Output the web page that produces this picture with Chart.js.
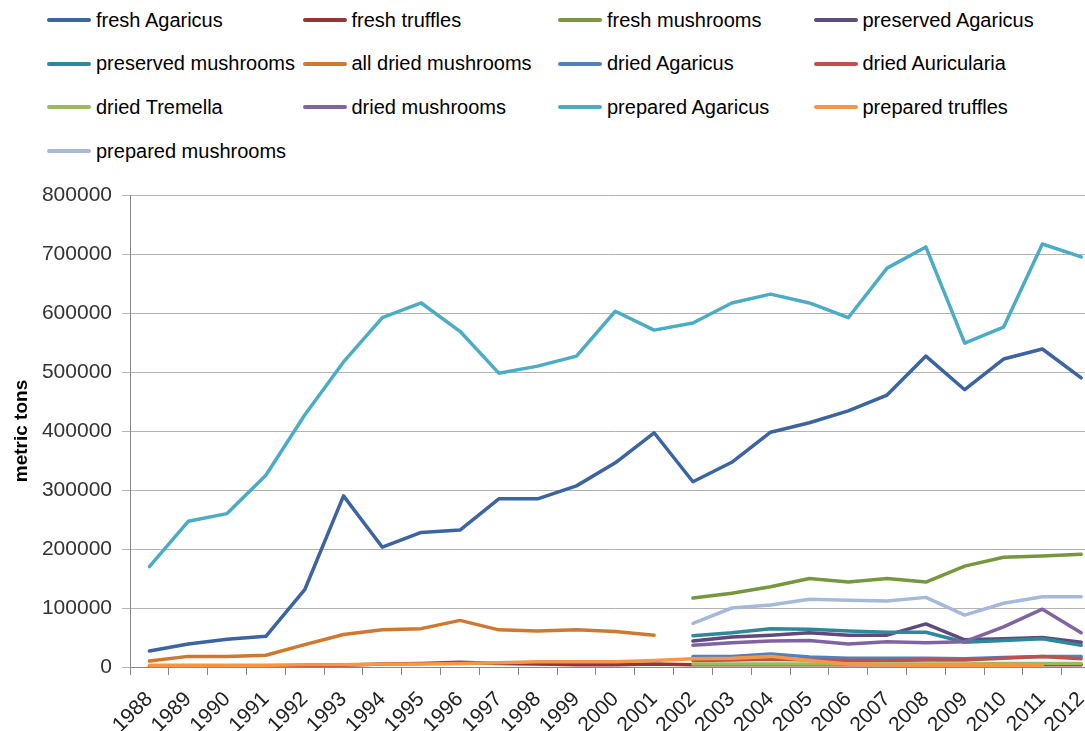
<!DOCTYPE html>
<html>
<head>
<meta charset="utf-8">
<script src="https://cdn.jsdelivr.net/npm/chart.js@4.4.1/dist/chart.umd.min.js"></script>
<style>
  html, body { margin: 0; padding: 0; background: #fff; overflow: hidden; }
  #wrap { position: relative; width: 1085px; height: 731px; overflow: hidden; }
  #legend { position: absolute; left: 0; top: 0; width: 1085px; height: 170px; }
  .item { position: absolute; height: 24px; display: flex; align-items: center;
    font-family: "Liberation Sans", Arial, sans-serif; font-size: 20px; color: #000; white-space: nowrap; }
  .swatch { width: 44px; height: 4px; border-radius: 2px; margin-right: 5px; }
  #chart { position: absolute; left: 0; top: 170px; }
</style>
</head>
<body>
<div id="wrap">
  <div id="legend"></div>
  <canvas id="chart" width="1111" height="561"></canvas>
</div>
<script>
// values, metric tons
const years = ["1988", "1989", "1990", "1991", "1992", "1993", "1994", "1995", "1996", "1997", "1998", "1999", "2000",
  "2001", "2002", "2003", "2004", "2005", "2006", "2007", "2008", "2009", "2010", "2011", "2012"];
const yTicks = [0, 100000, 200000, 300000, 400000, 500000, 600000, 700000, 800000];

const freshAgaricus = [27000, 39000, 47000, 52000, 131000, 290000, 203000, 228000, 232000, 285000, 285000, 307000, 346000,
  397000, 314000, 347000, 398000, 414000, 434000, 461000, 527000, 470000, 522000, 539000, 490000];
const freshTruffles = [1000, 1000, 1000, 1000, 2000, 3000, 5000, 6000, 8000, 6000, 5000, 4000, 4000,
  5000, 4000, 4000, 4000, 4000, 4000, 4000, 4000, 4000, 4000, 4000, 4000];
const freshMushrooms = [null, null, null, null, null, null, null, null, null, null, null, null, null,
  null, 117000, 125000, 136000, 150000, 144000, 150000, 144000, 171000, 186000, 188000, 191000];
const preservedAgaricus = [null, null, null, null, null, null, null, null, null, null, null, null, null,
  null, 44000, 51000, 54000, 58000, 54000, 54000, 73000, 46000, 48000, 50000, 42000];
const preservedMushrooms = [null, null, null, null, null, null, null, null, null, null, null, null, null,
  null, 53000, 58000, 65000, 64000, 61000, 59000, 59000, 42000, 45000, 48000, 37000];
const allDriedMushrooms = [10000, 18000, 18000, 20000, 38000, 55000, 63000, 65000, 79000, 63000, 61000, 63000, 60000,
  54000, null, null, null, null, null, null, null, null, null, null, null];
const driedAgaricus = [null, null, null, null, null, null, null, null, null, null, null, null, null,
  null, 18000, 18000, 22000, 17000, 15000, 15000, 15000, 14000, 16000, 18000, 18000];
const driedAuricularia = [null, null, null, null, null, null, null, null, null, null, null, null, null,
  null, 11000, 12000, 13000, 12000, 11000, 11000, 12000, 12000, 15000, 18000, 14000];
const driedTremella = [null, null, null, null, null, null, null, null, null, null, null, null, null,
  null, 5000, 5000, 5000, 5000, 5000, 5000, 5000, 5000, 6000, 6000, 6000];
const driedMushrooms = [null, null, null, null, null, null, null, null, null, null, null, null, null,
  null, 37000, 41000, 44000, 45000, 39000, 43000, 41000, 43000, 68000, 98000, 58000];
const preparedAgaricus = [170000, 247000, 260000, 325000, 427000, 517000, 592000, 617000, 569000, 498000, 510000, 527000, 603000,
  571000, 583000, 617000, 632000, 617000, 592000, 676000, 712000, 549000, 576000, 717000, 695000];
const preparedTruffles = [3000, 3000, 3000, 3000, 4000, 4000, 5000, 5000, 6000, 7000, 9000, 9000, 9000,
  11000, 14000, 15000, 18000, 11000, 5000, 4000, 3000, 3000, 3000, 3000, null];
const preparedMushrooms = [null, null, null, null, null, null, null, null, null, null, null, null, null,
  null, 74000, 100000, 105000, 115000, 113000, 112000, 118000, 88000, 108000, 119000, 119000];

const series = [
  ["fresh Agaricus", freshAgaricus, "#3b64a0"],
  ["fresh truffles", freshTruffles, "#943634"],
  ["fresh mushrooms", freshMushrooms, "#77973d"],
  ["preserved Agaricus", preservedAgaricus, "#604a7b"],
  ["preserved mushrooms", preservedMushrooms, "#2f879c"],
  ["all dried mushrooms", allDriedMushrooms, "#d0782f"],
  ["dried Agaricus", driedAgaricus, "#4f81bd"],
  ["dried Auricularia", driedAuricularia, "#c0504d"],
  ["dried Tremella", driedTremella, "#9bbb59"],
  ["dried mushrooms", driedMushrooms, "#8064a2"],
  ["prepared Agaricus", preparedAgaricus, "#4bacc6"],
  ["prepared truffles", preparedTruffles, "#f79646"],
  ["prepared mushrooms", preparedMushrooms, "#a7b9d9"],
];

const font = "'Liberation Sans', Arial, sans-serif";

const chart = new Chart(document.getElementById("chart"), {
  type: "line",
  data: {
    labels: years,
    datasets: series.map(([label, data, color], i) => ({
      label: label,
      data: data,
      borderColor: color,
      backgroundColor: color,
      borderWidth: 3.5,
      pointRadius: 0,
      tension: 0,
      spanGaps: false,
      borderJoinStyle: "round",
      borderCapStyle: "round",
      order: series.length - i, // later series drawn on top, like Excel
    })),
  },
  options: {
    responsive: false,
    animation: false,
    layout: { padding: { top: 25, right: 0, left: 0, bottom: 0 } },
    plugins: {
      legend: { display: false },
      tooltip: { enabled: false },
    },
    scales: {
      x: {
        type: "category",
        offset: true,
        grid: { offset: true, drawOnChartArea: false, color: "#888", tickLength: 8 },
        border: { color: "#888" },
        ticks: {
          autoSkip: false,
          maxRotation: 45,
          minRotation: 45,
          color: "#222",
          font: { family: font, size: 21 },
          padding: 12,
          labelOffset: 0,
        },
        afterFit: (s) => { s.height = 64; },
      },
      y: {
        min: 0,
        max: 800000,
        afterBuildTicks: (s) => { s.ticks = yTicks.map((v) => ({ value: v })); },
        grid: { color: "#b3b3b3", tickLength: 8 },
        border: { color: "#888" },
        ticks: {
          color: "#333",
          font: { family: font, size: 21 },
          padding: 10,
          callback: (v) => String(v),
        },
        title: {
          display: true,
          text: "metric tons",
          color: "#000",
          font: { family: font, size: 19, weight: "bold" },
          padding: { top: 10, bottom: 0 },
        },
        afterFit: (s) => { s.width = 130; },
      },
    },
  },
});

// legend in four columns, built from the chart's datasets
const legend = document.getElementById("legend");
chart.data.datasets.forEach((ds, i) => {
  const col = i % 4, row = Math.floor(i / 4);
  const item = document.createElement("div");
  item.className = "item";
  item.style.left = (47 + col * 255.5) + "px";
  item.style.top = (8 + row * 43.7) + "px";
  const sw = document.createElement("span");
  sw.className = "swatch";
  sw.style.background = ds.borderColor;
  const tx = document.createElement("span");
  tx.textContent = ds.label;
  item.appendChild(sw);
  item.appendChild(tx);
  legend.appendChild(item);
});
</script>
</body>
</html>
